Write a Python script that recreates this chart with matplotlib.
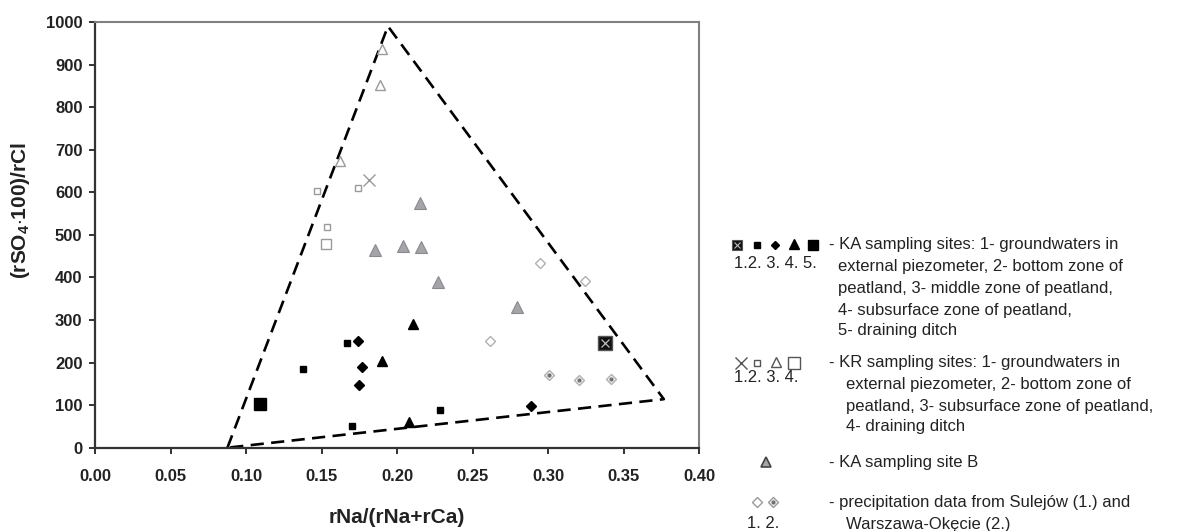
import numpy as np
import matplotlib
matplotlib.use("Agg")
import matplotlib.pyplot as plt

plt.rcParams['font.family'] = ['Liberation Sans', 'DejaVu Sans']
plt.rcParams['mathtext.fontset'] = 'custom'
plt.rcParams['mathtext.rm'] = 'Liberation Sans:bold'
plt.rcParams['mathtext.bf'] = 'Liberation Sans:bold'

# KA sampling sites (1..5)
ka1_x = [0.3375]
ka1_y = [245]
ka2_x = [0.1375, 0.167, 0.170, 0.2287]
ka2_y = [185, 245, 52, 88]
ka3_x = [0.1745, 0.1765, 0.175, 0.289]
ka3_y = [251, 190, 147, 98]
ka4_x = [0.2106, 0.190, 0.2078]
ka4_y = [290, 204, 61]
ka5_x = [0.1095]
ka5_y = [102]

# KR sampling sites (1..4)
kr1_x = [0.1813]
kr1_y = [629]
kr2_x = [0.1472, 0.174, 0.1538]
kr2_y = [604, 611, 519]
kr3_x = [0.190, 0.189, 0.162]
kr3_y = [937, 851, 673]
kr4_x = [0.1531]
kr4_y = [478]

# KA sampling site B
kab_x = [0.1855, 0.2038, 0.2157, 0.2153, 0.2274, 0.2798]
kab_y = [464, 474, 471, 574, 389, 330]

# precipitation: Sulejow (1.) and Warszawa-Okecie (2.)
sul_x = [0.295, 0.3243, 0.2617]
sul_y = [433, 392, 251]
war_x = [0.3007, 0.3208, 0.342]
war_y = [170, 158, 162]

# dashed envelope
bound_x = [0.0877, 0.194, 0.3767, 0.0877]
bound_y = [0, 990, 114, 0]

x_ticks = [0.00, 0.05, 0.10, 0.15, 0.20, 0.25, 0.30, 0.35, 0.40]
x_labels = ['0.00', '0.05', '0.10', '0.15', '0.20', '0.25', '0.30', '0.35', '0.40']
y_ticks = [0, 100, 200, 300, 400, 500, 600, 700, 800, 900, 1000]

W, H = 1198, 531
fig = plt.figure(figsize=(W / 100, H / 100), dpi=100)
ax = fig.add_axes([95 / W, 1 - 447.7 / H, 604 / W, 425.7 / H])

gray = '#9a9a9a'
ax.plot(bound_x, bound_y, color='black', lw=1.9, dashes=(5, 2.8), zorder=2)

ax.plot(kr2_x, kr2_y, 's', ms=4.5, mfc='white', mec=gray, mew=1, zorder=3)
ax.plot(kr4_x, kr4_y, 's', ms=7.5, mfc='white', mec=gray, mew=1, zorder=3)
ax.plot(kr3_x, kr3_y, '^', ms=7, mfc='white', mec=gray, mew=1, zorder=3)
ax.plot(kr1_x, kr1_y, 'x', ms=9, mec=gray, mew=1, zorder=3)

ax.plot(kab_x, kab_y, '^', ms=8, mfc='#a4a4ab', mec='#8a8a8a', mew=0.8, zorder=3)

ax.plot(sul_x, sul_y, 'D', ms=5.5, mfc='white', mec='#b0b0b0', mew=1, zorder=3)
ax.plot(war_x, war_y, 'D', ms=5.5, mfc='#f4f4f4', mec='#b0b0b0', mew=1, zorder=3)
ax.plot(war_x, war_y, 'o', ms=2, mfc='#707070', mec='#707070', zorder=4)

ax.plot(ka2_x, ka2_y, 's', ms=5, color='black', zorder=3)
ax.plot(ka3_x, ka3_y, 'D', ms=5, color='black', zorder=3)
ax.plot(ka4_x, ka4_y, '^', ms=7, color='black', zorder=3)
ax.plot(ka5_x, ka5_y, 's', ms=8.5, color='black', zorder=3)
ax.plot(ka1_x, ka1_y, 's', ms=9.5, mfc='#111111', mec='#555555', mew=1, zorder=3)
ax.plot(ka1_x, ka1_y, 'x', ms=6, mec='#bbbbbb', mew=0.9, zorder=4)

ax.set_xlim(0, 0.40)
ax.set_ylim(0, 1000)
ax.set_xticks(x_ticks)
ax.set_xticklabels(x_labels, fontweight='bold', fontsize=12)
ax.set_yticks(y_ticks)
ax.set_yticklabels([str(v) for v in y_ticks], fontweight='bold', fontsize=12)
ax.tick_params(axis='x', direction='out', length=4, width=1.3, pad=11, colors='#222222')
ax.tick_params(axis='y', direction='out', length=4, width=1.3, pad=5, colors='#222222')

for s in ['top', 'right']:
    ax.spines[s].set_color('#808080')
    ax.spines[s].set_linewidth(1.5)
for s in ['left', 'bottom']:
    ax.spines[s].set_color('#333333')
    ax.spines[s].set_linewidth(1.6)

ax.set_xlabel('rNa/(rNa+rCa)', fontsize=15, fontweight='bold', color='#222222')
ax.xaxis.set_label_coords(0.5, -0.142)
ax.set_ylabel(r'(rSO$_\mathrm{4}$$\cdot$100)/rCl', fontsize=15, fontweight='bold',
              color='#222222')
ax.yaxis.set_label_coords(-0.105, 0.558)

# legend drawn on an overlay in pixel coordinates
lax = fig.add_axes([0, 0, 1, 1])
lax.set_xlim(0, W)
lax.set_ylim(H, 0)
lax.axis('off')
lax.patch.set_alpha(0)

tk = dict(fontsize=12, va='center', ha='left', color='#222222')

lax.plot([737], [245], 's', ms=6.5, mfc='#111111', mec='#555555', mew=0.8)
lax.plot([737], [245], 'x', ms=4, mec='#bbbbbb', mew=0.8)
lax.plot([757], [245], 's', ms=4.5, color='black')
lax.plot([775], [245], 'D', ms=4.5, color='black')
lax.plot([794], [244], '^', ms=6.5, color='black')
lax.plot([813], [245], 's', ms=7, color='black')
lax.text(734, 263, '1.2. 3. 4. 5.', **tk)
lax.text(829, 245, '- KA sampling sites: 1- groundwaters in', **tk)
lax.text(838, 267, 'external piezometer, 2- bottom zone of', **tk)
lax.text(838, 288, 'peatland, 3- middle zone of peatland,', **tk)
lax.text(838, 310, '4- subsurface zone of peatland,', **tk)
lax.text(838, 331, '5- draining ditch', **tk)

lax.plot([741], [363], 'x', ms=8, mec='#555555', mew=1)
lax.plot([757], [363], 's', ms=5, mfc='white', mec='#555555', mew=1)
lax.plot([776], [362], '^', ms=7, mfc='white', mec='#555555', mew=1)
lax.plot([794], [363], 's', ms=8, mfc='white', mec='#555555', mew=1)
lax.text(734, 378, '1.2. 3. 4.', **tk)
lax.text(829, 363, '- KR sampling sites: 1- groundwaters in', **tk)
lax.text(846, 385, 'external piezometer, 2- bottom zone of', **tk)
lax.text(846, 406, 'peatland, 3- subsurface zone of peatland,', **tk)
lax.text(846, 427, '4- draining ditch', **tk)

lax.plot([766], [462], '^', ms=7.5, mfc='#a4a4ab', mec='#444444', mew=1.2)
lax.text(829, 462, '- KA sampling site B', **tk)

lax.plot([757], [502], 'D', ms=5, mfc='white', mec='#999999', mew=1)
lax.plot([773], [502], 'D', ms=5, mfc='#f4f4f4', mec='#999999', mew=1)
lax.plot([773], [502], 'o', ms=2, color='#707070')
lax.text(747, 524, '1. 2.', **tk)
lax.text(829, 502, '- precipitation data from Sulejów (1.) and', **tk)
lax.text(846, 524, 'Warszawa-Okęcie (2.)', **tk)

fig.savefig('out.png', dpi=100)
